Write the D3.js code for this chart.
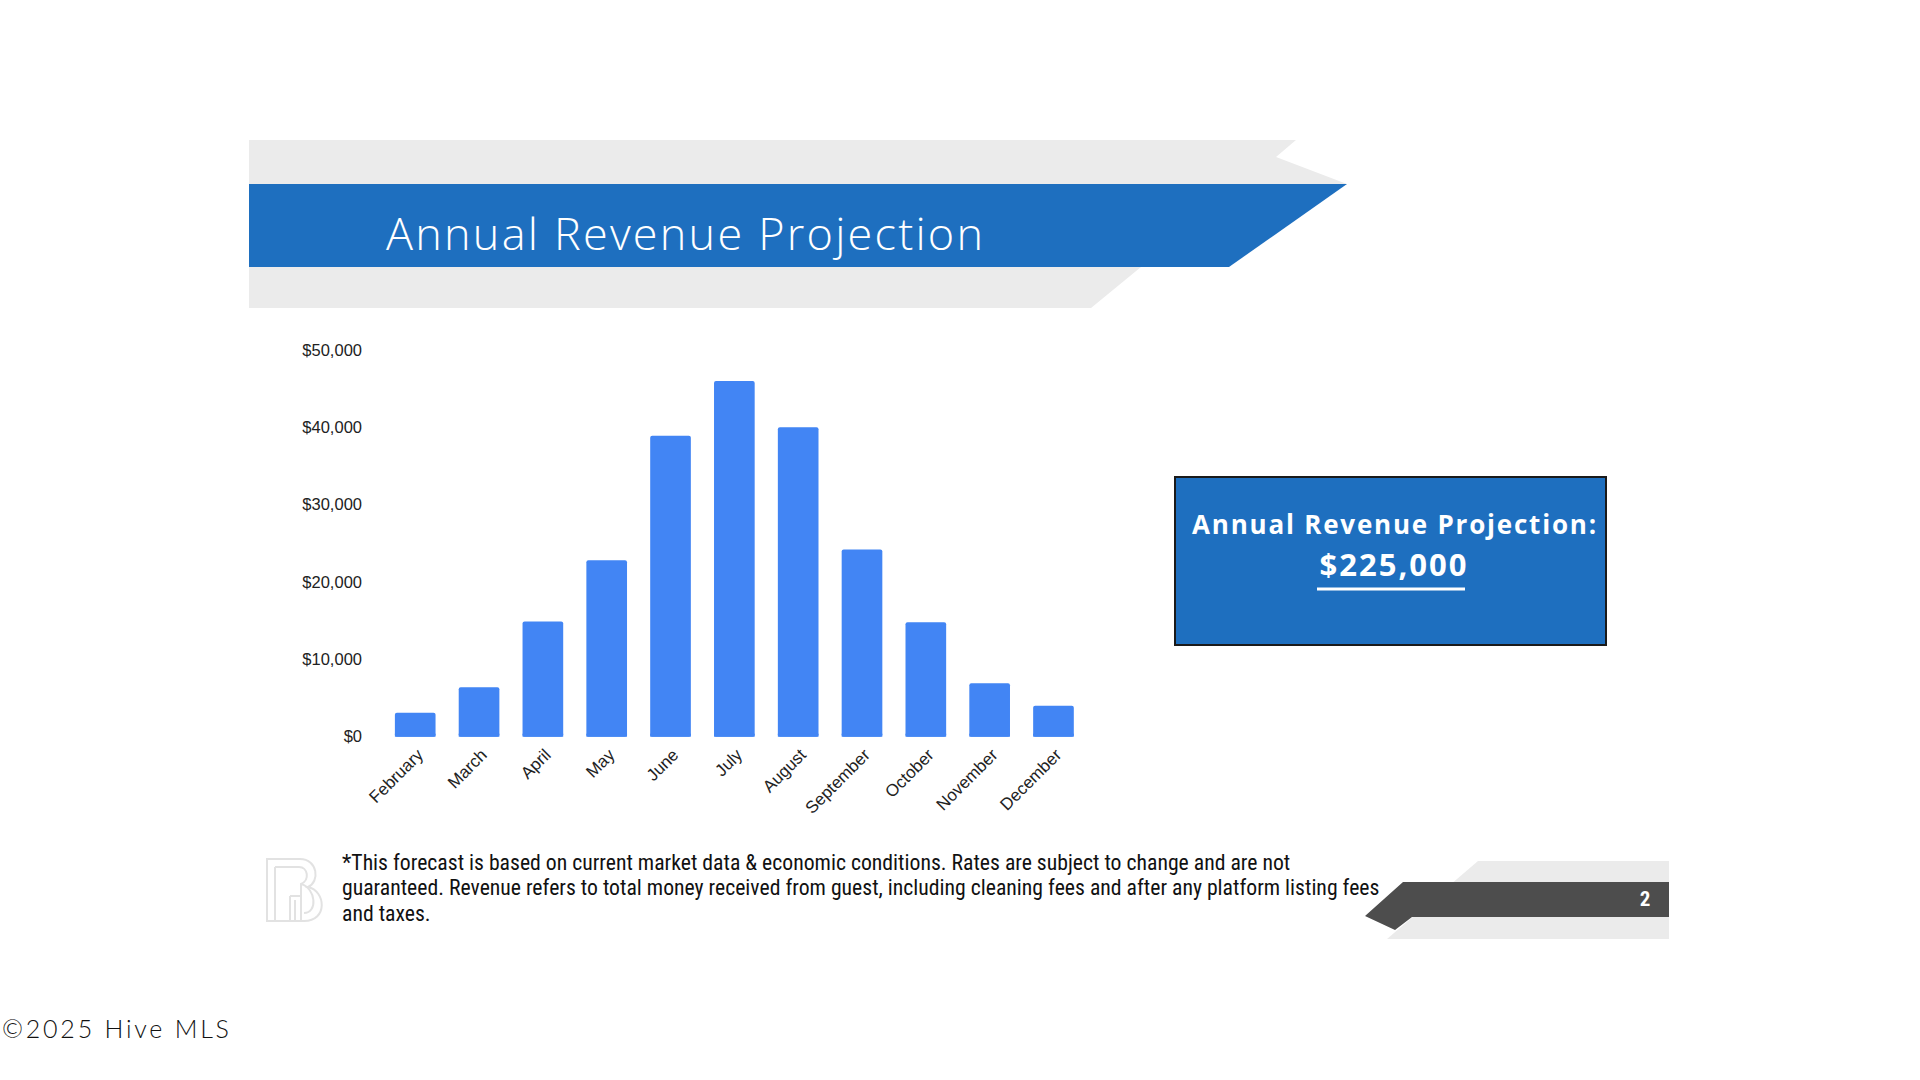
<!DOCTYPE html>
<html>
<head>
<meta charset="utf-8">
<script src="https://cdn.jsdelivr.net/npm/d3@7"></script>
<style>
  html, body { margin: 0; padding: 0; background: #fff; }
  svg { display: block; }
</style>
</head>
<body>
<svg id="slide" width="1920" height="1080"></svg>
<script>

// chart values
var months = ["February", "March", "April", "May", "June", "July",
              "August", "September", "October", "November", "December"];
var revenue = [3100, 6400, 14900, 22800, 38900, 46000, 40000, 24200, 14800, 6900, 4000];
var yTicks = [0, 10000, 20000, 30000, 40000, 50000];

var titleText = "Annual Revenue Projection";
var boxLabel = "Annual Revenue Projection:";
var boxTotal = "$225,000";
var footnoteLines = [
  "*This forecast is based on current market data & economic conditions. Rates are subject to change and are not",
  "guaranteed. Revenue refers to total money received from guest, including cleaning fees and after any platform listing fees",
  "and taxes."
];
var pageNumber = "2";
var copyright = "\u00A92025 Hive MLS";

var blue = "#1e6fbf",
    barBlue = "#4285f4",
    lightGrey = "#ebebeb",
    darkGrey = "#4d4d4d";

var svg = d3.select("#slide");

// stretch letter spacing so a text takes a given width
function fit_width(sel, width) {
  var len = sel.node().getComputedTextLength(),
      n = sel.text().length;
  if (n > 1) sel.attr("letter-spacing", (width - len) / (n - 1));
}

// header ribbon
var line = d3.line();

svg.append("path")
    .attr("d", line([[249, 140], [1296, 140], [1276, 157], [1347, 184],
                     [1141, 267], [1091, 308], [249, 308]]) + "Z")
    .attr("fill", lightGrey);

svg.append("path")
    .attr("d", line([[249, 184], [1347, 184], [1229, 267], [249, 267]]) + "Z")
    .attr("fill", blue);

var title = svg.append("text")
    .attr("x", 386)
    .attr("y", 250)
    .attr("fill", "#fff")
    .style("font-family", "'Open Sans', sans-serif")
    .style("font-size", "45px")
    .style("font-weight", 300)
    .text(titleText);
fit_width(title, 597);

// bar chart
var x = d3.scaleBand()
    .domain(months)
    .range([383.4, 1085.3])
    .paddingInner(0.363)
    .paddingOuter(0.18);

var y = d3.scaleLinear()
    .domain([0, 50000])
    .range([736.7, 350]);

var yAxis = d3.axisLeft(y)
    .tickValues(yTicks)
    .tickSize(0)
    .tickPadding(0)
    .tickFormat(function(d) { return "$" + d3.format(",")(d); });

var gy = svg.append("g")
    .attr("transform", "translate(362,0)")
    .call(yAxis);
gy.select(".domain").remove();
gy.selectAll("text")
    .attr("fill", "#222")
    .style("font-family", "'Liberation Sans', Arial, sans-serif")
    .style("font-size", "16.5px");

svg.append("g").selectAll("rect")
    .data(revenue)
    .join("rect")
    .attr("x", function(d, i) { return x(months[i]); })
    .attr("y", function(d) { return y(d); })
    .attr("width", x.bandwidth())
    .attr("height", function(d) { return y(0) - y(d); })
    .attr("rx", 2)
    .attr("fill", barBlue);

// bottom edge of the bars should stay square
svg.append("g").selectAll("rect")
    .data(revenue)
    .join("rect")
    .attr("x", function(d, i) { return x(months[i]); })
    .attr("y", function(d) { return Math.max(y(d) + 3, y(0) - 3); })
    .attr("width", x.bandwidth())
    .attr("height", function(d) { return Math.min(3, y(0) - y(d) - 3); })
    .attr("fill", barBlue);

svg.append("g").selectAll("text")
    .data(months)
    .join("text")
    .attr("transform", function(d) {
      return "translate(" + (x(d) + x.bandwidth() / 2 + 9) + ",756) rotate(-45)";
    })
    .attr("text-anchor", "end")
    .attr("fill", "#222")
    .style("font-family", "'Liberation Sans', Arial, sans-serif")
    .style("font-size", "17px")
    .text(function(d) { return d; });

// summary box
svg.append("rect")
    .attr("x", 1175)
    .attr("y", 477)
    .attr("width", 431)
    .attr("height", 168)
    .attr("fill", blue)
    .attr("stroke", "#1a1a1a")
    .attr("stroke-width", 2);

var boxText = svg.append("text")
    .attr("x", 1395)
    .attr("y", 534)
    .attr("text-anchor", "middle")
    .attr("fill", "#fff")
    .style("font-family", "'Open Sans', sans-serif")
    .style("font-size", "26px")
    .style("font-weight", 700)
    .text(boxLabel);
fit_width(boxText, 404);

var totalText = svg.append("text")
    .attr("x", 1394)
    .attr("y", 576)
    .attr("text-anchor", "middle")
    .attr("fill", "#fff")
    .style("font-family", "'Open Sans', sans-serif")
    .style("font-size", "31px")
    .style("font-weight", 700)
    .text(boxTotal);
fit_width(totalText, 147);

svg.append("line")
    .attr("x1", 1317)
    .attr("x2", 1465)
    .attr("y1", 589)
    .attr("y2", 589)
    .attr("stroke", "#fff")
    .attr("stroke-width", 3);

// faint logo next to the footnote
var logo = svg.append("g")
    .attr("transform", "translate(266,858)")
    .attr("fill", "none")
    .attr("stroke", "#e2e2e2")
    .attr("stroke-width", 2);
logo.append("path")
    .attr("d", "M1,1 H34 C52,1 54,24 42,29 C60,33 62,63 38,63 H1 Z");
logo.append("path")
    .attr("d", "M9,9 H33 C42,9 44,22 35,26 V63 M9,9 V63 M35,26 C50,30 52,55 38,55 M24,38 V63 M24,38 H35 M29,42 V63");

// footnote
var foot = svg.append("g")
    .attr("fill", "#111")
    .style("font-family", "'Liberation Sans Narrow', 'Arial Narrow', 'Roboto Condensed', sans-serif");

var footSize = 20;
foot.selectAll("text")
    .data(footnoteLines)
    .join("text")
    .attr("x", 342)
    .attr("y", function(d, i) { return 869.5 + i * 25.5; })
    .style("font-size", footSize + "px")
    .text(function(d) { return d; });

// scale the footnote so its longest line ends where it does on the slide
var longLen = foot.selectAll("text").nodes()[1].getComputedTextLength();
footSize = Math.max(15, Math.min(24, footSize * 1038 / longLen));
foot.selectAll("text").style("font-size", footSize + "px");

// page number ribbon
svg.append("path")
    .attr("d", line([[1478, 861], [1669, 861], [1669, 939], [1387, 939]]) + "Z")
    .attr("fill", lightGrey);

svg.append("path")
    .attr("d", line([[1403, 882], [1669, 882], [1669, 917], [1412, 917],
                     [1395, 930], [1365, 916]]) + "Z")
    .attr("fill", darkGrey);

svg.append("text")
    .attr("x", 1645)
    .attr("y", 906)
    .attr("text-anchor", "middle")
    .attr("fill", "#fff")
    .style("font-family", "'Liberation Sans Narrow', 'Roboto Condensed', sans-serif")
    .style("font-size", "21px")
    .style("font-weight", 700)
    .text(pageNumber);

// watermark
var copy = svg.append("text")
    .attr("x", 2)
    .attr("y", 1038)
    .attr("fill", "#111")
    .style("font-family", "Lato, 'Noto Sans', sans-serif")
    .style("font-size", "25px")
    .style("font-weight", 300)
    .text(copyright);
fit_width(copy, 227);

</script>
</body>
</html>
